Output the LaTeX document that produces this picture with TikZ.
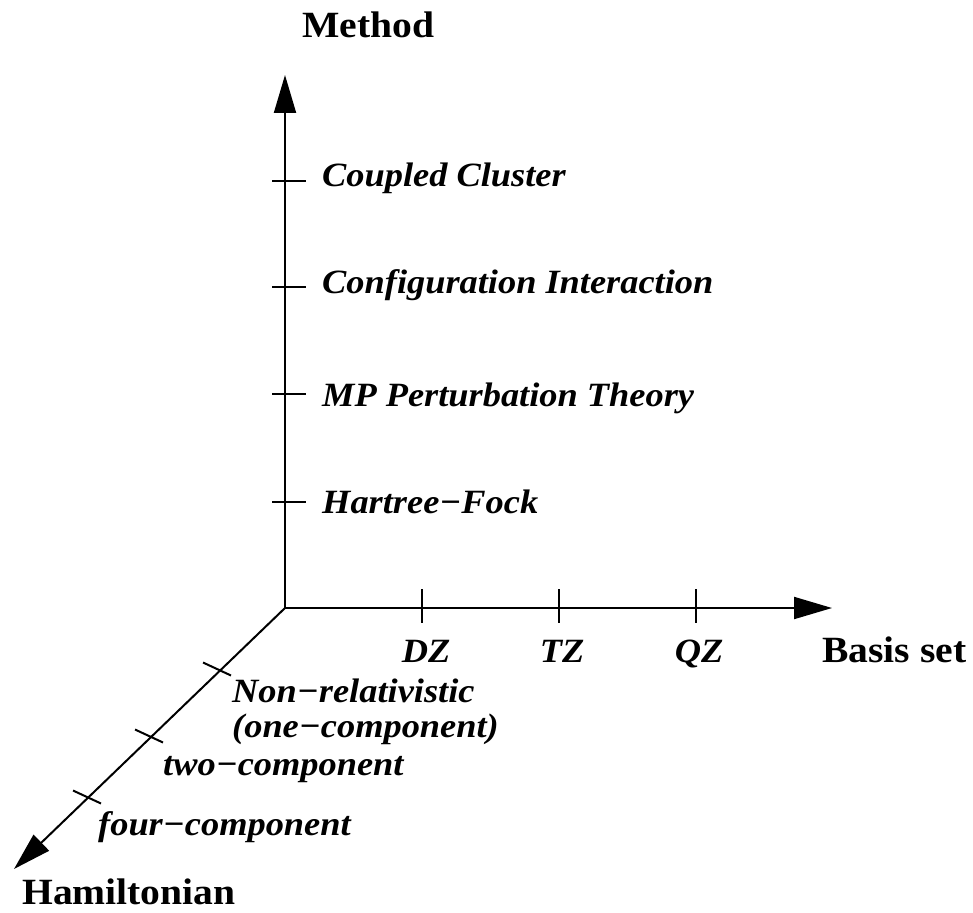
\documentclass[tikz,border=0pt]{standalone}
\usepackage{fontspec}
\setmainfont{Liberation Serif}[FakeStretch=1.07]
\usetikzlibrary{arrows.meta}
\begin{document}
\begin{tikzpicture}[x=1pt,y=-1pt,
  axis/.style={line width=2pt,-{Triangle[length=38pt,width=22pt]}},
  tick/.style={line width=2pt},
  lab/.style={inner sep=0pt,font=\fontsize{34}{38}\selectfont\bfseries\itshape},
  title/.style={inner sep=0pt,font=\fontsize{37}{42}\selectfont\bfseries}]
\useasboundingbox (0,0) rectangle (973,912);
\coordinate (O) at (285,608);
\coordinate (V) at (285,75);
\coordinate (H) at (832,608);
\coordinate (D) at (14,869);
\draw[axis] (O) -- (V);
\draw[axis] (O) -- (H);
\draw[axis] (O) -- (D);
% vertical ticks
\foreach \n/\y in {a/181,b/287,c/394,d/502}{
  \coordinate (vt\n1) at (272,\y);
  \coordinate (vt\n2) at (306,\y);
  \draw[tick] (vt\n1) -- (vt\n2);
}
% horizontal ticks
\foreach \n/\x in {a/422,b/559,c/696}{
  \coordinate (ht\n1) at (\x,589);
  \coordinate (ht\n2) at (\x,623);
  \draw[tick] (ht\n1) -- (ht\n2);
}
% diagonal ticks
\foreach \n/\x/\y in {a/217/669,b/149/736,c/87/797}{
  \coordinate (dt\n1) at (\x-14,\y-6.5);
  \coordinate (dt\n2) at (\x+14,\y+6.5);
  \draw[tick] (dt\n1) -- (dt\n2);
}
% titles
\node[title,anchor=base] (method) at (368.5,38) {Method};
\node[title,anchor=base west] (basis) at (822,662) {Basis set};
\node[title,anchor=base west] (ham) at (22,904) {Hamiltonian};
% method labels
\node[lab,anchor=base west] (cc) at (322,186) {Coupled Cluster};
\node[lab,anchor=base west] (ci) at (322,293) {Configuration Interaction};
\node[lab,anchor=base west] (mp) at (322,406) {MP Perturbation Theory};
\node[lab,anchor=base west] (hf) at (322,513) {Hartree−Fock};
% basis labels
\node[lab,anchor=base] (dz) at (426,662) {DZ};
\node[lab,anchor=base] (tz) at (562,662) {TZ};
\node[lab,anchor=base] (qz) at (699,662) {QZ};
% hamiltonian labels
\node[lab,anchor=base west] (nr) at (232,702) {Non−relativistic};
\node[lab,anchor=base west] (oc) at (232,737) {(one−component)};
\node[lab,anchor=base west] (tc) at (163,775) {two−component};
\node[lab,anchor=base west] (fc) at (98,835) {four−component};
\end{tikzpicture}
\end{document}
